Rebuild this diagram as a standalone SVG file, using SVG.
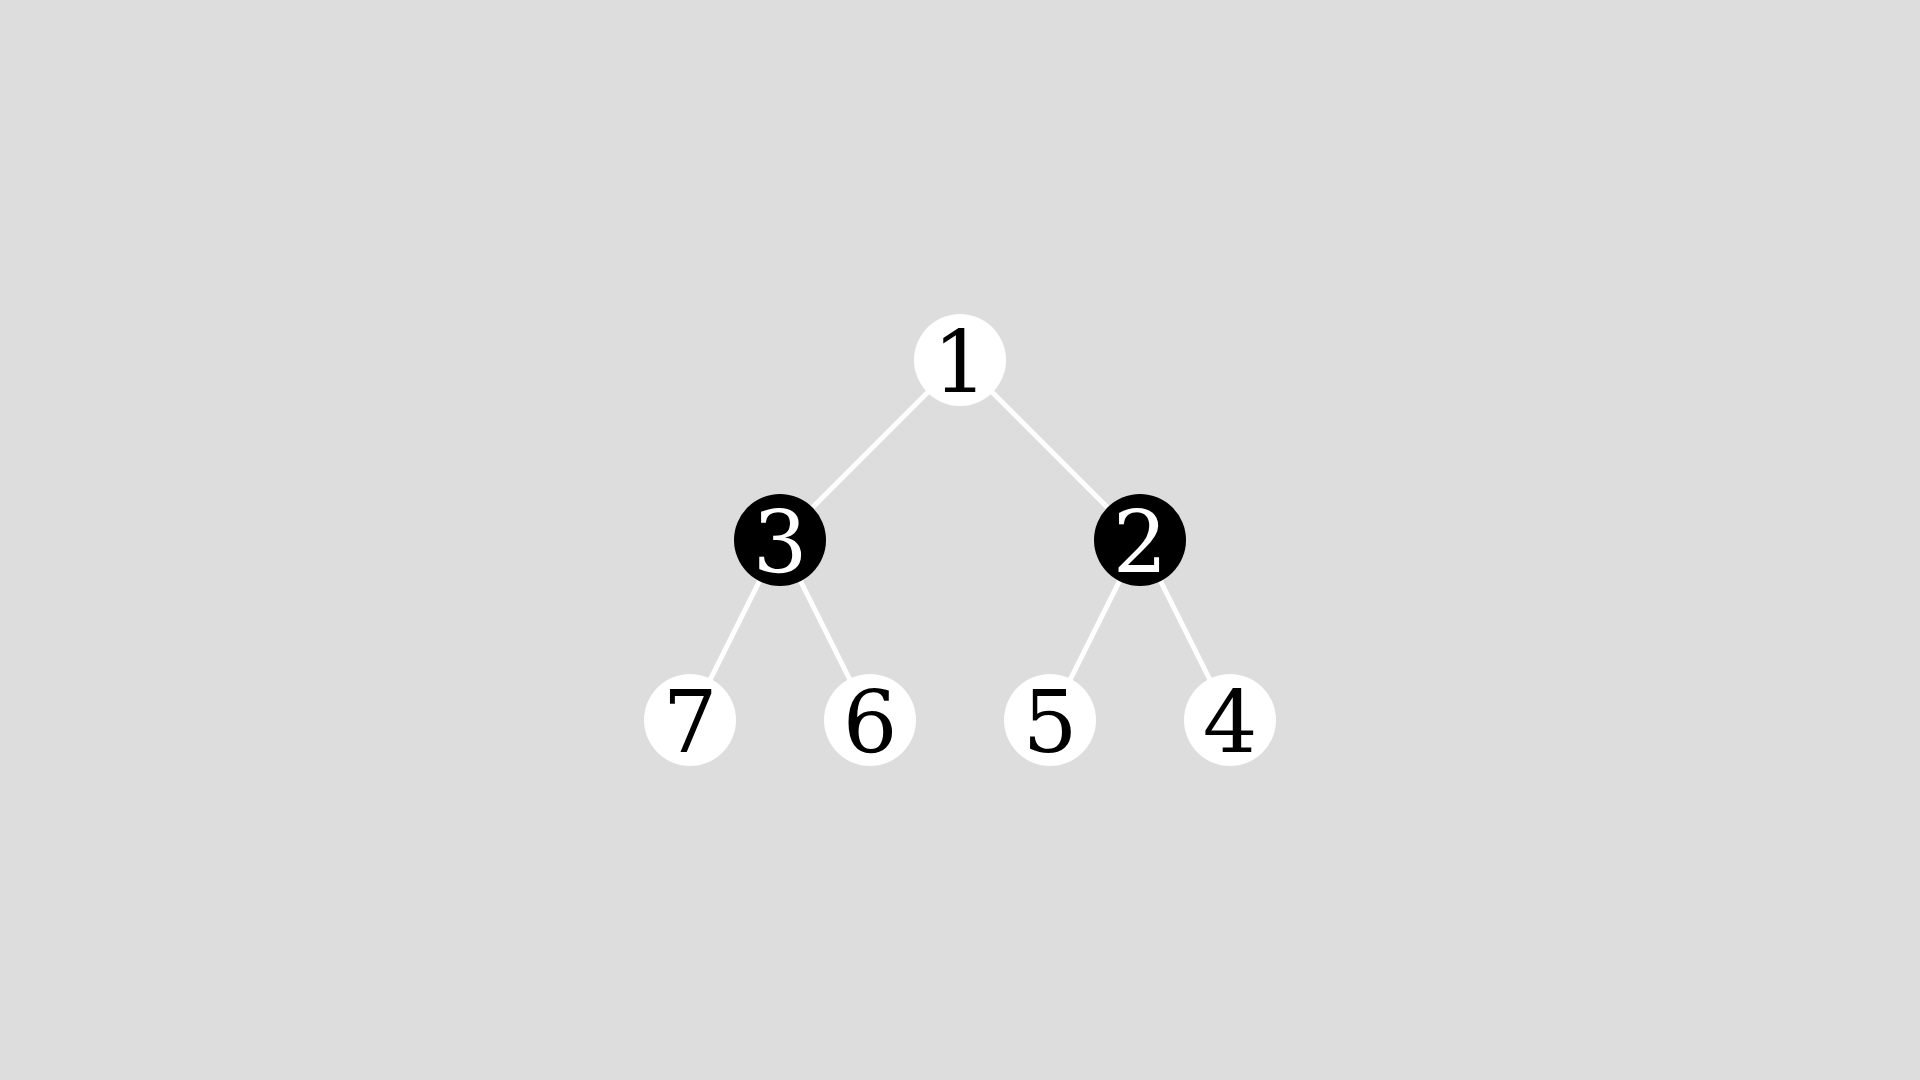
<svg xmlns="http://www.w3.org/2000/svg" width="1920" height="1080" viewBox="0 0 1920 1080">
<style>
.edge{stroke:#ffffff;stroke-width:5;fill:none}
.w circle{fill:#ffffff}
.b circle{fill:#000000}
text{font-family:"DejaVu Serif",serif;font-size:86px;text-anchor:middle}
.w text{fill:#000000}
.b text{fill:#ffffff}
</style>
<rect width="1920" height="1080" fill="#dddddd"/>
<g id="connectors">
<line class="edge" x1="960" y1="360" x2="780" y2="540"/>
<line class="edge" x1="960" y1="360" x2="1140" y2="540"/>
<line class="edge" x1="780" y1="540" x2="690" y2="720"/>
<line class="edge" x1="780" y1="540" x2="870" y2="720"/>
<line class="edge" x1="1140" y1="540" x2="1050" y2="720"/>
<line class="edge" x1="1140" y1="540" x2="1230" y2="720"/>
</g>
<g id="node1" class="w"><circle cx="960" cy="360" r="46"/><text x="960" y="392">1</text></g>
<g id="node3" class="b"><circle cx="780" cy="540" r="46"/><text x="780" y="572">3</text></g>
<g id="node2" class="b"><circle cx="1140" cy="540" r="46"/><text x="1140" y="572">2</text></g>
<g id="node7" class="w"><circle cx="690" cy="720" r="46"/><text x="690" y="752">7</text></g>
<g id="node6" class="w"><circle cx="870" cy="720" r="46"/><text x="870" y="752">6</text></g>
<g id="node5" class="w"><circle cx="1050" cy="720" r="46"/><text x="1050" y="752">5</text></g>
<g id="node4" class="w"><circle cx="1230" cy="720" r="46"/><text x="1230" y="752">4</text></g>
</svg>
